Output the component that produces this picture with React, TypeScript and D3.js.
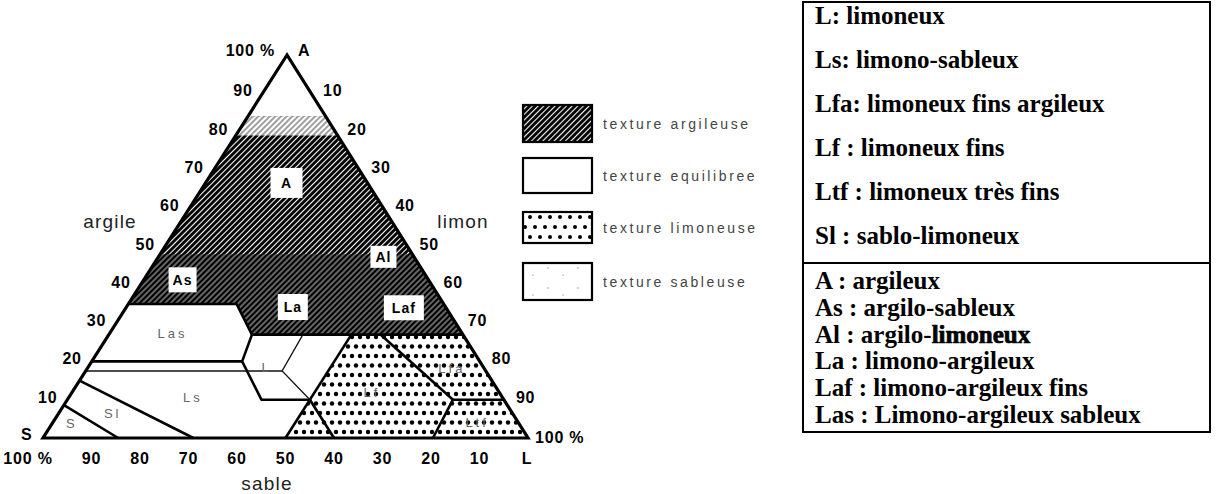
import React from "react";
import * as d3 from "d3";

const W = 1217;
const H = 494;

// ---- ternary data (clay %, silt %) ----
const axisTicks = [10, 20, 30, 40, 50, 60, 70, 80, 90];

const hatchedZone: [number, number][] = [[100, 0], [35, 0], [35, 22.3], [27, 29.5], [27, 73]];
const hatchedDarkZone: [number, number][] = [[48, 0], [35, 0], [35, 22.3], [27, 29.5], [27, 73], [48, 52]];
const hatchedFadeZone: [number, number][] = [[84, 0], [79, 0], [79, 21], [84, 16]];
const topWhiteZone: [number, number][] = [[100, 0], [84, 0], [84, 16]];
const dottedZone: [number, number][] = [[27, 50], [27, 73], [0, 100], [0, 50]];

const thickLines: [number, number][][] = [
  [[35, 0], [35, 22.3], [27, 29.5], [27, 73]],
  [[20, 0], [20, 31]],
  [[27, 29.5], [20, 31], [10, 40], [10, 50]],
  [[27, 50], [0, 50]],
  [[10, 50], [0, 60]],
  [[27, 56], [10, 79.5]],
  [[10, 79.5], [10, 90]],
  [[10, 79.5], [0, 80.4]],
  [[15, 0], [0, 31]],
  [[8.6, 0], [0, 15.5]],
];
const thinLines: [number, number][][] = [
  [[17.5, 0], [17.5, 40.5]],
  [[27, 40], [17.5, 40.5], [10, 50]],
];

const boxedLabels = [
  { name: "A", clay: 66.6, silt: 16.7, w: 32, h: 30 },
  { name: "As", clay: 41.3, silt: 8, w: 28, h: 25 },
  { name: "Al", clay: 47.3, silt: 46.4, w: 26, h: 22 },
  { name: "La", clay: 34.2, silt: 34.3, w: 30, h: 26 },
  { name: "Laf", clay: 34, silt: 57.3, w: 40, h: 25 },
];
const faintLabels = [
  { name: "Las", clay: 27.4, silt: 12.9 },
  { name: "L", clay: 18.5, silt: 36.8 },
  { name: "Ls", clay: 10.7, silt: 25.5 },
  { name: "Sl", clay: 6.5, silt: 11.1 },
  { name: "S", clay: 3.9, silt: 4 },
  { name: "Lf", clay: 12, silt: 61.8 },
  { name: "Lfa", clay: 18.3, silt: 75.1 },
  { name: "Ltf", clay: 4.2, silt: 87.4 },
];

const textureLegend = [
  { label: "texture argileuse", fill: "url(#hatch)" },
  { label: "texture equilibree", fill: "#fff" },
  { label: "texture limoneuse", fill: "url(#dotsL)" },
  { label: "texture sableuse", fill: "url(#sparse)" },
];

const upperCodes = [
  "L: limoneux",
  "Ls: limono-sableux",
  "Lfa: limoneux fins argileux",
  "Lf : limoneux fins",
  "Ltf : limoneux très fins",
  "Sl : sablo-limoneux",
];
const lowerCodes = [
  "A : argileux",
  "As : argilo-sableux",
  "Al : argilo-limoneux",
  "La : limono-argileux",
  "Laf : limono-argileux fins",
  "Las : Limono-argileux sableux",
];

// ---- projection ----
const clayY = d3.scaleLinear().domain([0, 100]).range([438, 55]);
const siltX = d3.scaleLinear().domain([0, 100]).range([0, 485]);
const clayX = d3.scaleLinear().domain([0, 100]).range([0, 244]);
const X0 = 43;
const proj = (c: number, l: number): [number, number] => [X0 + siltX(l) + clayX(c), clayY(c)];
const lineGen = d3.line<[number, number]>().x((d) => proj(d[0], d[1])[0]).y((d) => proj(d[0], d[1])[1]);
const poly = (pts: [number, number][]) => lineGen(pts) + "Z";

const sandX = d3.scaleLinear().domain([100, 0]).range([43, 528]);

const SANS = "'Liberation Sans', Arial, sans-serif";
const SERIF = "'Liberation Serif', 'Times New Roman', Times, serif";

export default function App() {
  const tickFont = { fontFamily: SANS, fontWeight: 700, fontSize: 16, letterSpacing: 0.8 } as const;
  const axisNameFont = { fontFamily: SANS, fontSize: 19, letterSpacing: 1.2, fill: "#222" } as const;
  const serif = { fontFamily: SERIF, fontWeight: 700, fontSize: 25, fill: "#000" } as const;
  const legendY = [105, 158, 212, 263];
  const legendH = [37, 35, 31, 37];
  const upperY = [16, 60, 104, 148, 192, 236];
  const lowerY = [281, 308, 335, 361, 388, 415];
  return (
    <svg width={W} height={H} style={{ position: "absolute", left: 0, top: 0, background: "#fff" }}>
      <defs>
        <pattern id="hatch" width="4" height="4" patternUnits="userSpaceOnUse" patternTransform="rotate(45)">
          <rect width="4" height="4" fill="#fff" />
          <line x1="1.5" y1="0" x2="1.5" y2="4" stroke="#000" strokeWidth="2.9" />
        </pattern>
        <pattern id="hatchDark" width="4" height="4" patternUnits="userSpaceOnUse" patternTransform="rotate(45)">
          <rect width="4" height="4" fill="#000" />
          <line x1="3" y1="0" x2="3" y2="4" stroke="#fff" strokeWidth="0.8" />
        </pattern>
        <pattern id="hatchFade" width="4" height="4" patternUnits="userSpaceOnUse" patternTransform="rotate(45)">
          <rect width="4" height="4" fill="#fff" />
          <line x1="1" y1="0" x2="1" y2="4" stroke="#777" strokeWidth="1.4" />
        </pattern>
        <pattern id="dots" width="16" height="19" patternUnits="userSpaceOnUse">
          <rect width="16" height="19" fill="#fff" />
          <circle cx="4" cy="4.5" r="2.2" fill="#000" />
          <circle cx="12" cy="4.5" r="2.2" fill="#000" />
          <circle cx="0" cy="14" r="2.2" fill="#000" />
          <circle cx="8" cy="14" r="2.2" fill="#000" />
          <circle cx="16" cy="14" r="2.2" fill="#000" />
        </pattern>
        <pattern id="dotsL" width="20" height="20" patternUnits="userSpaceOnUse" x="525" y="212">
          <rect width="20" height="20" fill="#fff" />
          <circle cx="5" cy="5" r="2" fill="#000" />
          <circle cx="15" cy="5" r="2" fill="#000" />
          <circle cx="0" cy="15" r="2" fill="#000" />
          <circle cx="10" cy="15" r="2" fill="#000" />
          <circle cx="20" cy="15" r="2" fill="#000" />
        </pattern>
        <pattern id="sparse" width="30" height="20" patternUnits="userSpaceOnUse">
          <rect width="30" height="20" fill="#fff" />
          <circle cx="8" cy="8" r="0.8" fill="#999" />
          <circle cx="23" cy="15" r="0.8" fill="#aaa" />
        </pattern>
      </defs>

      {/* zones */}
      <path d={poly(hatchedZone)} fill="url(#hatch)" />
      <path d={poly(hatchedDarkZone)} fill="url(#hatchDark)" />
      <path d={poly(hatchedFadeZone)} fill="url(#hatchFade)" />
      <path d={poly(topWhiteZone)} fill="#fff" />
      <path d={poly(dottedZone)} fill="url(#dots)" />

      {/* boundaries */}
      {thickLines.map((l, i) => (
        <path key={"t" + i} d={lineGen(l) || ""} fill="none" stroke="#000" strokeWidth={2.6} strokeLinejoin="round" />
      ))}
      {thinLines.map((l, i) => (
        <path key={"n" + i} d={lineGen(l) || ""} fill="none" stroke="#111" strokeWidth={1.3} />
      ))}

      {/* outer triangle */}
      <path d={poly([[100, 0], [0, 0], [0, 100]])} fill="none" stroke="#000" strokeWidth={3.2} strokeLinejoin="miter" />

      {/* boxed labels */}
      {boxedLabels.map((b) => {
        const [x, y] = proj(b.clay, b.silt);
        return (
          <g key={b.name}>
            <rect x={x - b.w / 2} y={y - b.h / 2} width={b.w} height={b.h} fill="#fff" />
            <text x={x} y={y + 5} textAnchor="middle" style={{ fontFamily: SANS, fontSize: 14, fontWeight: 700, letterSpacing: 1 }}>
              {b.name}
            </text>
          </g>
        );
      })}
      {faintLabels.map((b) => {
        const [x, y] = proj(b.clay, b.silt);
        return (
          <text key={b.name} x={x} y={y + 5} textAnchor="middle" fill="#666" style={{ fontFamily: SANS, fontSize: 13, letterSpacing: 3 }}>
            {b.name}
          </text>
        );
      })}

      {/* left axis (argile) */}
      {axisTicks.map((t) => {
        const [x, y] = proj(t, 0);
        return (
          <text key={"a" + t} x={x - 10} y={y + 3} textAnchor="end" style={tickFont}>
            {t}
          </text>
        );
      })}
      {/* right axis (limon) */}
      {axisTicks.map((t) => {
        const [x, y] = proj(100 - t, t);
        return (
          <text key={"l" + t} x={x + 12} y={y + 3} textAnchor="start" style={tickFont}>
            {t}
          </text>
        );
      })}
      {/* bottom axis (sable) */}
      {axisTicks.map((t) => (
        <text key={"s" + t} x={sandX(t)} y={464} textAnchor="middle" style={tickFont}>
          {t}
        </text>
      ))}
      <text x={275} y={56} textAnchor="end" style={tickFont}>100 %</text>
      <text x={298} y={56} style={tickFont}>A</text>
      <text x={21} y={440} style={tickFont}>S</text>
      <text x={28} y={464} textAnchor="middle" style={tickFont}>100 %</text>
      <text x={527} y={464} textAnchor="middle" style={tickFont}>L</text>
      <text x={535} y={443} style={tickFont}>100 %</text>

      <text x={110} y={228} textAnchor="middle" style={axisNameFont}>argile</text>
      <text x={463} y={228} textAnchor="middle" style={axisNameFont}>limon</text>
      <text x={267} y={490} textAnchor="middle" style={axisNameFont}>sable</text>

      {/* texture legend */}
      {textureLegend.map((d, i) => (
        <g key={d.label}>
          <rect x={523} y={legendY[i]} width={69} height={legendH[i]} fill={d.fill} stroke="#000" strokeWidth={2.2} />
          <text x={603} y={legendY[i] + legendH[i] / 2 + 5} fill="#444" style={{ fontFamily: SANS, fontSize: 14, letterSpacing: 2.6 }}>
            {d.label}
          </text>
        </g>
      ))}

      {/* code legend box */}
      <rect x={803} y={2} width={407} height={430} fill="none" stroke="#000" strokeWidth={2} />
      <line x1={803} x2={1210} y1={263} y2={263} stroke="#000" strokeWidth={2} />
      {upperCodes.map((s, i) => (
        <text key={s} x={815} y={upperY[i] + 8} style={serif}>{s}</text>
      ))}
      {lowerCodes.map((s, i) => {
        if (s.startsWith("Al :")) {
          return (
            <text key={s} x={815} y={lowerY[i] + 8} style={serif}>
              Al : argilo-<tspan stroke="#000" strokeWidth={0.7}>limoneux</tspan>
            </text>
          );
        }
        return (
          <text key={s} x={815} y={lowerY[i] + 8} style={serif}>{s}</text>
        );
      })}
    </svg>
  );
}
